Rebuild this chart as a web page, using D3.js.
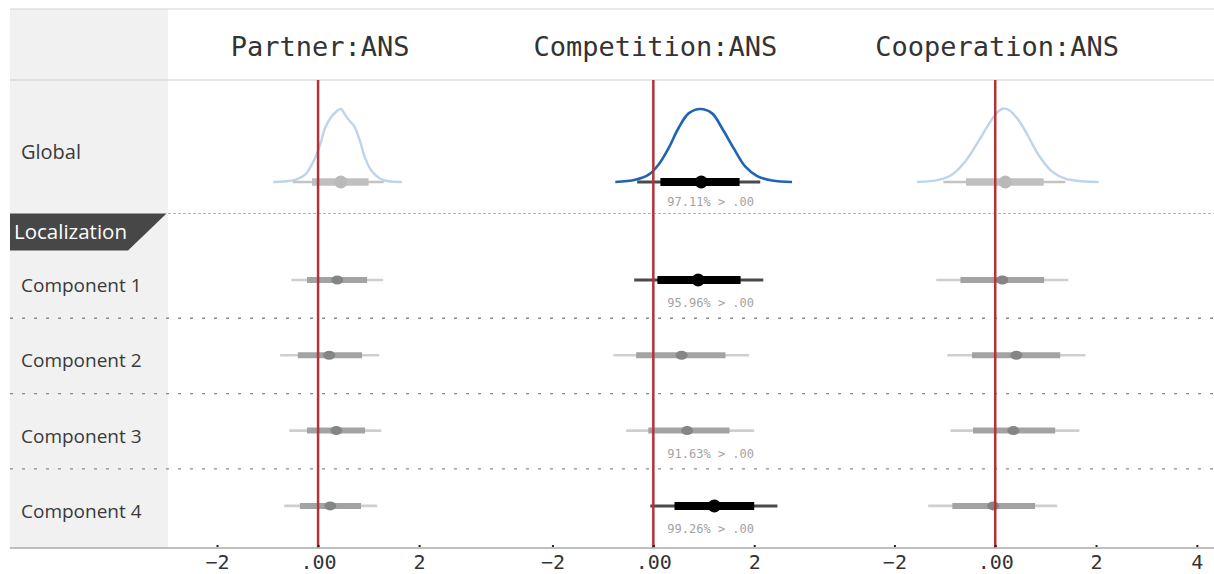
<!DOCTYPE html>
<html>
<head>
<meta charset="utf-8">
<script src="https://cdn.jsdelivr.net/npm/d3@7"></script>
<style>
  html, body { margin: 0; padding: 0; background: #fff; }
  svg { display: block; }
</style>
</head>
<body>
<svg id="chart" width="1214" height="574"></svg>
<script>
// ---------------- DATA ----------------
const panels = ["Partner:ANS", "Competition:ANS", "Cooperation:ANS"];
const xDomains = [[-2.97, 3.64], [-3.0, 3.78], [-3.0, 4.34]];
const tickValues = [-2, 0, 2, 4];
const rows = ["Global", "Component 1", "Component 2", "Component 3", "Component 4"];
const groupLabel = "Localization";

// medians, 50% intervals, 95% intervals (Global, Component 1..4)
const partnerMed = [0.45, 0.38, 0.22, 0.36, 0.24];
const partnerInner = [[-0.12, 1.0], [-0.22, 0.97], [-0.40, 0.87], [-0.22, 0.93], [-0.36, 0.85]];
const partnerOuter = [[-0.50, 1.30], [-0.53, 1.29], [-0.75, 1.21], [-0.57, 1.25], [-0.67, 1.17]];
const partnerProb = [null, null, null, null, null];

const competitionMed = [0.95, 0.89, 0.56, 0.67, 1.21];
const competitionInner = [[0.14, 1.71], [0.08, 1.73], [-0.34, 1.43], [-0.10, 1.51], [0.42, 2.0]];
const competitionOuter = [[-0.32, 2.12], [-0.38, 2.18], [-0.79, 1.90], [-0.54, 2.0], [-0.06, 2.46]];
const competitionProb = [97.11, 95.96, null, 91.63, 99.26];

const cooperationMed = [0.20, 0.14, 0.42, 0.36, -0.04];
const cooperationInner = [[-0.58, 0.96], [-0.69, 0.97], [-0.46, 1.29], [-0.44, 1.19], [-0.85, 0.79]];
const cooperationOuter = [[-1.03, 1.39], [-1.17, 1.45], [-0.95, 1.79], [-0.89, 1.67], [-1.33, 1.23]];
const cooperationProb = [null, null, null, null, null];

// Global posterior densities (value, relative density)
const partnerDensX = [-0.885, -0.455, -0.257, -0.093, 0.04, 0.139, 0.27, 0.37, 0.455, 0.535, 0.634, 0.72, 0.83, 0.93, 1.06, 1.23, 1.39, 1.66];
const partnerDensY = [0, 0.03, 0.10, 0.28, 0.51, 0.74, 0.90, 0.97, 1.0, 0.92, 0.83, 0.76, 0.56, 0.33, 0.15, 0.045, 0.01, 0];
const competitionDensX = [-0.754, -0.357, -0.093, 0.105, 0.30, 0.50, 0.70, 0.93, 1.165, 1.36, 1.595, 1.825, 2.06, 2.355, 2.75];
const competitionDensY = [0, 0.03, 0.10, 0.24, 0.46, 0.74, 0.94, 1.0, 0.94, 0.74, 0.46, 0.21, 0.08, 0.02, 0];
const cooperationDensX = [-1.55, -1.125, -0.86, -0.595, -0.33, -0.13, 0.0, 0.133, 0.264, 0.46, 0.66, 0.86, 1.125, 1.39, 1.72, 2.05];
const cooperationDensY = [0, 0.03, 0.10, 0.28, 0.56, 0.79, 0.92, 1.0, 0.99, 0.85, 0.62, 0.37, 0.145, 0.045, 0.01, 0];

// ---------------- LAYOUT ----------------
const W = 1214, H = 574;
const left = 10, labelW = 168;
const topY = 9, headerBottom = 80, globalBottom = 213.5, axisY = 548;
const panelEdges = [168, 502, 844, 1214];

const panelData = [
  { med: partnerMed, inner: partnerInner, outer: partnerOuter, prob: partnerProb, dx: partnerDensX, dy: partnerDensY },
  { med: competitionMed, inner: competitionInner, outer: competitionOuter, prob: competitionProb, dx: competitionDensX, dy: competitionDensY },
  { med: cooperationMed, inner: cooperationInner, outer: cooperationOuter, prob: cooperationProb, dx: cooperationDensX, dy: cooperationDensY }
];

const svg = d3.select("#chart");
const mono = "'DejaVu Sans Mono', 'Liberation Mono', monospace";
const sans = "'Open Sans', 'Noto Sans', sans-serif";

// left label column background
svg.append("rect").attr("x", left).attr("y", topY).attr("width", labelW - left).attr("height", axisY - topY).attr("fill", "#f1f1f1");

// header lines
svg.append("line").attr("x1", left).attr("x2", W).attr("y1", topY).attr("y2", topY).attr("stroke", "#d4d4d4").attr("stroke-width", 1.2);
svg.append("line").attr("x1", left).attr("x2", W).attr("y1", headerBottom).attr("y2", headerBottom).attr("stroke", "#cfcfcf").attr("stroke-width", 1.2);

// component rows (scale band)
const compRows = rows.slice(1);
const yComp = d3.scaleBand().domain(compRows).range([243, 544.2]).paddingInner(0).paddingOuter(0);
const compCenter = r => yComp(r) + 37;
const globalY = 182;
const yDens = d3.scaleLinear().domain([0, 1]).range([globalY, 109]);

// separator: global / localization
svg.append("line").attr("x1", labelW).attr("x2", W).attr("y1", globalBottom).attr("y2", globalBottom)
  .attr("stroke", "#b5b5b5").attr("stroke-width", 1).attr("stroke-dasharray", "3,2");

// separators between components
compRows.slice(1).forEach(r => {
  svg.append("line").attr("x1", left).attr("x2", W).attr("y1", yComp(r)).attr("y2", yComp(r))
    .attr("stroke", "#8a8a8a").attr("stroke-width", 1.4).attr("stroke-dasharray", "3,9");
});

// banner
const bannerTop = globalBottom, bannerBot = 250.5;
svg.append("path")
  .attr("d", `M${left},${bannerTop} L166.5,${bannerTop} L128,${bannerBot} L${left},${bannerBot} Z`)
  .attr("fill", "#474747");
svg.append("text").attr("x", 14).attr("y", 238.5).attr("fill", "#fff")
  .style("font-family", sans).style("font-size", "20.5px").text(groupLabel);

// row labels
svg.append("text").attr("x", 21).attr("y", 159).attr("fill", "#3a3a3a")
  .style("font-family", sans).style("font-size", "20px").text(rows[0]);
compRows.forEach(r => {
  svg.append("text").attr("x", 21).attr("y", yComp(r) + 49).attr("fill", "#3a3a3a")
    .style("font-family", sans).style("font-size", "19px").text(r);
});

// panels
panelData.forEach((p, i) => {
  const x = d3.scaleLinear().domain(xDomains[i]).range([panelEdges[i], panelEdges[i + 1]]);
  const g = svg.append("g");

  // title
  g.append("text").attr("x", x(0) + 2).attr("y", 56).attr("text-anchor", "middle")
    .attr("fill", "#333").style("font-family", mono).style("font-size", "27px").text(panels[i]);

  const sig = v => v != null && v > 95;
  const labelled = v => v != null && v > 90;

  // global density
  const dens = p.dx.map((v, k) => [v, p.dy[k]]);
  const line = d3.line().x(d => x(d[0])).y(d => yDens(d[1])).curve(d3.curveCatmullRom.alpha(0.5));
  g.append("path").attr("d", line(dens)).attr("fill", "none")
    .attr("stroke", sig(p.prob[0]) ? "#1f63b5" : "#bdd4ea").attr("stroke-width", sig(p.prob[0]) ? 2.6 : 2.4);

  // intervals
  rows.forEach((r, k) => {
    const y = k === 0 ? globalY : compCenter(r);
    const dark = sig(p.prob[k]);
    const isG = k === 0;
    const thinC = dark ? "#4a4a4a" : (isG ? "#c4c4c4" : "#cfcfcf");
    const thickC = dark ? "#000" : (isG ? "#c0c0c0" : "#a3a3a3");
    const ptC = dark ? "#000" : (isG ? "#b9b9b9" : "#858585");
    g.append("line").attr("x1", x(p.outer[k][0])).attr("x2", x(p.outer[k][1])).attr("y1", y).attr("y2", y)
      .attr("stroke", thinC).attr("stroke-width", dark ? 3 : 2.6);
    g.append("line").attr("x1", x(p.inner[k][0])).attr("x2", x(p.inner[k][1])).attr("y1", y).attr("y2", y)
      .attr("stroke", thickC).attr("stroke-width", dark ? 8 : (isG ? 7.5 : 6));
    if (dark || isG) {
      g.append("circle").attr("cx", x(p.med[k])).attr("cy", y).attr("r", 6.5).attr("fill", ptC);
    } else {
      g.append("ellipse").attr("cx", x(p.med[k])).attr("cy", y).attr("rx", 6).attr("ry", 4.5).attr("fill", ptC);
    }
    if (labelled(p.prob[k])) {
      g.append("text").attr("x", x(0) + 14).attr("y", y + (isG ? 24 : 27))
        .attr("fill", "#a3a3a3").style("font-family", mono).style("font-size", "12px")
        .text(d3.format(".2f")(p.prob[k]) + "% > .00");
    }
  });

  // zero line
  g.append("line").attr("x1", x(0)).attr("x2", x(0)).attr("y1", headerBottom).attr("y2", axisY)
    .attr("stroke", "#b3323a").attr("stroke-width", 2.5);

  // axis
  const ticks = tickValues.filter(t => t >= xDomains[i][0] && t <= xDomains[i][1]);
  const axis = d3.axisBottom(x).tickValues(ticks).tickSize(-2).tickPadding(8)
    .tickFormat(t => t === 0 ? ".00" : d3.format("d")(t));
  const ag = svg.append("g").attr("transform", `translate(0,${axisY})`).call(axis);
  ag.select(".domain").remove();
  ag.selectAll(".tick line").attr("stroke", "#222").attr("stroke-width", 2).attr("transform", "translate(0,-1)");
  ag.selectAll(".tick text").attr("fill", "#333").attr("y", 7).attr("dy", "0.71em")
    .style("font-family", mono).style("font-size", "20px");
});

// axis baseline
svg.append("line").attr("x1", left).attr("x2", W).attr("y1", axisY).attr("y2", axisY)
  .attr("stroke", "#aaaaaa").attr("stroke-width", 1.5);
</script>
</body>
</html>
